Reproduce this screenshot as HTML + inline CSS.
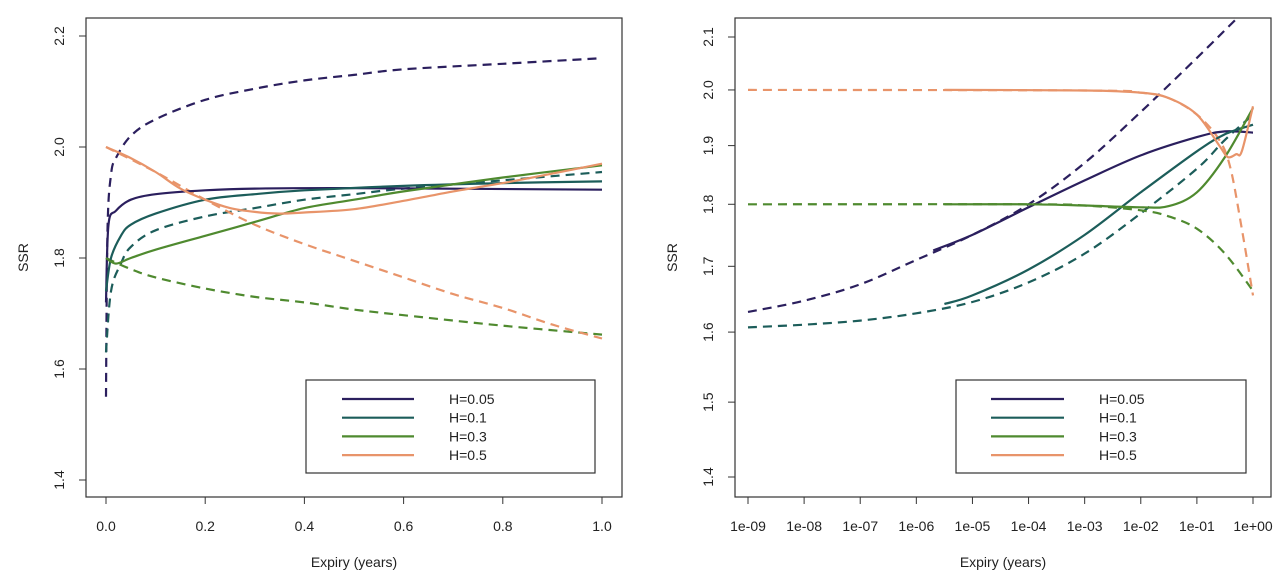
<!DOCTYPE html>
<html><head><meta charset="utf-8"><style>
body{margin:0;background:#fff}
svg{display:block;font-family:"Liberation Sans",Arial,sans-serif}
</style></head><body>
<svg id="chart" width="1278" height="573" viewBox="0 0 1278 573"></svg>
<script>
const seriesNames=["H=0.05","H=0.1","H=0.3","H=0.5"];
const seriesColors=["#2b1f5e","#1c5d5a","#4f8a2f","#e8946a"];
// left panel (linear expiry)
const L_navySolidX=[0,0.005,0.02,0.05,0.1,0.2,0.3,0.5,1.0];
const L_navySolidY=[1.72,1.86,1.885,1.905,1.915,1.922,1.925,1.926,1.923];
const L_navyDashX=[0,0.003,0.01,0.02,0.05,0.1,0.2,0.3,0.4,0.5,0.6,0.8,1.0];
const L_navyDashY=[1.55,1.85,1.95,1.98,2.02,2.05,2.085,2.105,2.12,2.13,2.14,2.15,2.16];
const L_tealSolidX=[0,0.01,0.03,0.05,0.1,0.2,0.3,0.4,0.6,0.8,1.0];
const L_tealSolidY=[1.74,1.80,1.84,1.86,1.88,1.905,1.915,1.922,1.93,1.935,1.938];
const L_tealDashX=[0,0.01,0.03,0.05,0.1,0.2,0.3,0.4,0.5,0.6,0.8,1.0];
const L_tealDashY=[1.63,1.74,1.79,1.82,1.85,1.875,1.89,1.905,1.915,1.925,1.94,1.955];
const L_greenSolidX=[0,0.02,0.05,0.1,0.2,0.3,0.4,0.5,0.6,0.8,1.0];
const L_greenSolidY=[1.80,1.79,1.80,1.815,1.84,1.865,1.89,1.905,1.92,1.945,1.967];
const L_greenDashX=[0,0.05,0.1,0.2,0.3,0.4,0.5,0.6,0.8,1.0];
const L_greenDashY=[1.80,1.78,1.765,1.745,1.73,1.72,1.707,1.697,1.678,1.662];
const L_orangeSolidX=[0,0.05,0.1,0.15,0.2,0.25,0.3,0.35,0.4,0.5,0.6,0.7,0.8,0.9,1.0];
const L_orangeSolidY=[2.0,1.98,1.955,1.925,1.905,1.89,1.883,1.88,1.882,1.888,1.903,1.92,1.935,1.952,1.97];
const L_orangeDashX=[0,0.1,0.2,0.3,0.4,0.5,0.6,0.7,0.8,0.9,1.0];
const L_orangeDashY=[2.0,1.955,1.905,1.86,1.825,1.795,1.765,1.735,1.71,1.68,1.655];
const L_xTicks=[0,0.2,0.4,0.6,0.8,1.0];
const L_xTickLabels=["0.0","0.2","0.4","0.6","0.8","1.0"];
const L_yTicks=[1.4,1.6,1.8,2.0,2.2];
const L_yTickLabels=["1.4","1.6","1.8","2.0","2.2"];
// right panel (log10 expiry)
const R_navyDashX=[-9,-8,-7,-6,-5,-4,-3,-2,-1,-0.3];
const R_navyDashY=[1.63,1.647,1.672,1.71,1.75,1.80,1.87,1.96,2.06,2.135];
const R_navySolidX=[-5.7,-5,-4,-3,-2,-1,-0.5,0];
const R_navySolidY=[1.725,1.75,1.795,1.84,1.883,1.915,1.925,1.923];
const R_tealSolidX=[-5.5,-5,-4,-3,-2,-1,-0.5,0];
const R_tealSolidY=[1.642,1.655,1.695,1.75,1.82,1.89,1.92,1.937];
const R_tealDashX=[-9,-8,-7,-6,-5,-4,-3,-2,-1,-0.5,0];
const R_tealDashY=[1.607,1.611,1.617,1.628,1.645,1.675,1.72,1.785,1.86,1.91,1.955];
const R_greenSolidX=[-5.5,-4,-3,-2,-1.5,-1,-0.5,0];
const R_greenSolidY=[1.80,1.80,1.798,1.795,1.797,1.82,1.88,1.967];
const R_greenDashX=[-9,-4,-3,-2,-1.5,-1,-0.5,0];
const R_greenDashY=[1.80,1.80,1.798,1.79,1.78,1.76,1.72,1.662];
const R_orangeSolidX=[-5.5,-3,-2,-1.5,-1,-0.6,-0.45,-0.3,-0.2,0];
const R_orangeSolidY=[2.0,1.999,1.995,1.985,1.955,1.90,1.88,1.885,1.89,1.97];
const R_orangeDashX=[-9,-3,-2,-1.5,-1,-0.6,-0.4,-0.2,0];
const R_orangeDashY=[2.0,1.999,1.995,1.985,1.955,1.91,1.86,1.76,1.655];
const R_xTicks=[-9,-8,-7,-6,-5,-4,-3,-2,-1,0];
const R_xTickLabels=["1e-09","1e-08","1e-07","1e-06","1e-05","1e-04","1e-03","1e-02","1e-01","1e+00"];
const R_yTicks=[1.4,1.5,1.6,1.7,1.8,1.9,2.0,2.1];
const R_yTickLabels=["1.4","1.5","1.6","1.7","1.8","1.9","2.0","2.1"];

const NS="http://www.w3.org/2000/svg";
const svg=document.getElementById("chart");
function mk(tag,attrs,parent){const e=document.createElementNS(NS,tag);for(const k in attrs)e.setAttribute(k,attrs[k]);(parent||svg).appendChild(e);return e;}
function smooth(pts){
  let d="M"+pts[0][0].toFixed(1)+" "+pts[0][1].toFixed(1);
  for(let i=0;i<pts.length-1;i++){
    const p0=pts[Math.max(0,i-1)],p1=pts[i],p2=pts[i+1],p3=pts[Math.min(pts.length-1,i+2)];
    const c1=[p1[0]+(p2[0]-p0[0])/6,p1[1]+(p2[1]-p0[1])/6];
    const c2=[p2[0]-(p3[0]-p1[0])/6,p2[1]-(p3[1]-p1[1])/6];
    d+=` C${c1[0].toFixed(1)} ${c1[1].toFixed(1)} ${c2[0].toFixed(1)} ${c2[1].toFixed(1)} ${p2[0].toFixed(1)} ${p2[1].toFixed(1)}`;
  }
  return d;
}
function panel(p){
  const g=mk("g",{});
  
  
  const clipId=p.name+"-clip";
  const cp=mk("clipPath",{id:clipId},g);mk("rect",{x:p.bx0,y:p.by0,width:p.bx1-p.bx0,height:p.by1-p.by0},cp);
  const box=mk("rect",{x:p.bx0,y:p.by0,width:p.bx1-p.bx0,height:p.by1-p.by0,fill:"none",stroke:"#333","stroke-width":1.2},g);
  
  
  const xa=mk("g",{},g);
  
  
  mk("line",{x1:p.xs(p.xt[0]),x2:p.xs(p.xt[p.xt.length-1]),y1:p.by1,y2:p.by1,stroke:"#333"},xa);
  p.xt.forEach((v,i)=>{const x=p.xs(v);mk("line",{x1:x,x2:x,y1:p.by1,y2:p.by1+7,stroke:"#333"},xa);
    const t=mk("text",{x:x,y:p.by1+34,"text-anchor":"middle","font-size":14,fill:"#222"},xa);t.textContent=p.xl[i];
    
    });
  const ya=mk("g",{},g);
  
  
  mk("line",{x1:p.bx0,x2:p.bx0,y1:p.ys(p.yt[0]),y2:p.ys(p.yt[p.yt.length-1]),stroke:"#333"},ya);
  p.yt.forEach((v,i)=>{const y=p.ys(v);mk("line",{x1:p.bx0-7,x2:p.bx0,y1:y,y2:y,stroke:"#333"},ya);
    const tx=p.bx0-22;const t=mk("text",{x:tx,y:y,"text-anchor":"middle","font-size":14,fill:"#222",transform:`rotate(-90 ${tx} ${y})`},ya);t.textContent=p.yl[i];
    
    });
  const xt=mk("text",{x:(p.bx0+p.bx1)/2,y:567,"text-anchor":"middle","font-size":14,fill:"#222"},g);xt.textContent="Expiry (years)";
  
  
  const yx=p.bx0-58,yy=(p.by0+p.by1)/2;
  const yt=mk("text",{x:yx,y:yy,"text-anchor":"middle","font-size":14,fill:"#222",transform:`rotate(-90 ${yx} ${yy})`},g);yt.textContent="SSR";
  
  
  const lg=mk("g",{"clip-path":`url(#${clipId})`},g);
  p.series.forEach(s=>{
    const pts=s.x.map((v,i)=>[p.xs(v),p.ys(s.y[i])]);
    const path=mk("path",{d:smooth(pts),fill:"none",stroke:seriesColors[s.c],"stroke-width":2.2,"stroke-dasharray":s.dash?"9 6":"none"},lg);
    
    
  });
  const L=p.leg;
  const leg=mk("g",{},g);
  
  
  mk("rect",{x:L.x0,y:380,width:L.x1-L.x0,height:93,fill:"#fff",stroke:"#333","stroke-width":1.2},leg);
  seriesNames.forEach((n,i)=>{const y=399+i*18.7;
    const e=mk("g",{},leg);
    
    
    mk("line",{x1:L.lx0,x2:L.lx1,y1:y,y2:y,stroke:seriesColors[i],"stroke-width":2.2},e);
    const t=mk("text",{x:L.tx,y:y+5,"font-size":14,fill:"#222"},e);t.textContent=n;});
}
const lys=v=>36+(2.2-v)*(480-36)/0.8;
panel({name:"left-panel",bx0:86,bx1:622,by0:18,by1:497,
  xs:v=>106+v*(602-106),ys:lys,xt:L_xTicks,xl:L_xTickLabels,yt:L_yTicks,yl:L_yTickLabels,
  leg:{x0:306,x1:595,lx0:342,lx1:414,tx:449},
  series:[
   {x:L_navyDashX,y:L_navyDashY,c:0,dash:1,label:"line-h005-dashed"},
   {x:L_tealDashX,y:L_tealDashY,c:1,dash:1,label:"line-h01-dashed"},
   {x:L_greenDashX,y:L_greenDashY,c:2,dash:1,label:"line-h03-dashed"},
   {x:L_orangeDashX,y:L_orangeDashY,c:3,dash:1,label:"line-h05-dashed"},
   {x:L_navySolidX,y:L_navySolidY,c:0,dash:0,label:"line-h005"},
   {x:L_tealSolidX,y:L_tealSolidY,c:1,dash:0,label:"line-h01"},
   {x:L_greenSolidX,y:L_greenSolidY,c:2,dash:0,label:"line-h03"},
   {x:L_orangeSolidX,y:L_orangeSolidY,c:3,dash:0,label:"line-h05"}]});
const rys=v=>37+Math.log(2.1/v)*(477-37)/Math.log(2.1/1.4);
panel({name:"right-panel",bx0:735,bx1:1271,by0:18,by1:497,
  xs:v=>1253+v*(1253-748)/9,ys:rys,xt:R_xTicks,xl:R_xTickLabels,yt:R_yTicks,yl:R_yTickLabels,
  leg:{x0:956,x1:1246,lx0:991,lx1:1064,tx:1099},
  series:[
   {x:R_navyDashX,y:R_navyDashY,c:0,dash:1,label:"line-h005-dashed"},
   {x:R_tealDashX,y:R_tealDashY,c:1,dash:1,label:"line-h01-dashed"},
   {x:R_greenDashX,y:R_greenDashY,c:2,dash:1,label:"line-h03-dashed"},
   {x:R_orangeDashX,y:R_orangeDashY,c:3,dash:1,label:"line-h05-dashed"},
   {x:R_navySolidX,y:R_navySolidY,c:0,dash:0,label:"line-h005"},
   {x:R_tealSolidX,y:R_tealSolidY,c:1,dash:0,label:"line-h01"},
   {x:R_greenSolidX,y:R_greenSolidY,c:2,dash:0,label:"line-h03"},
   {x:R_orangeSolidX,y:R_orangeSolidY,c:3,dash:0,label:"line-h05"}]});
</script>
</body></html>
